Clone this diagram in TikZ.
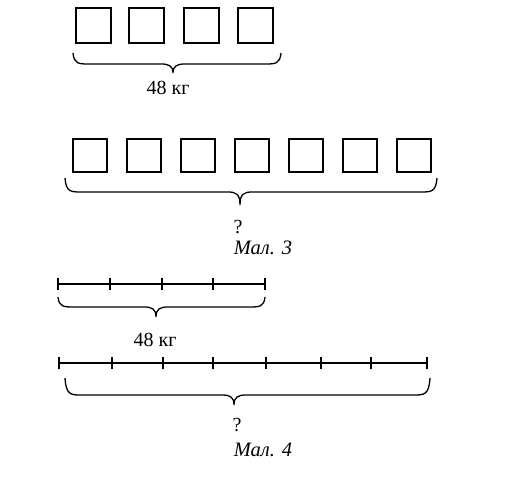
\documentclass[tikz,border=0pt]{standalone}
\usepackage{fontspec}
\setmainfont{Liberation Serif}
\tikzset{
  ln/.style={line width=1.3pt},
  bx/.style={ln},
  lbl/.style={font=\fontsize{20}{24}\selectfont, inner sep=0pt},
  captxt/.style={font=\fontsize{20.5}{24}\selectfont\itshape, inner sep=0pt},
}
\newcommand\brc[6]{% x1 x2 ytop yflat xm ytip
  \draw[ln] (#1,#3) .. controls (#1+1,#4) and (#1+6,#4) .. (#1+16,#4)
    -- (#5-12,#4) .. controls (#5-4,#4) and (#5,#4+2) .. (#5,#6)
    .. controls (#5,#4+2) and (#5+4,#4) .. (#5+12,#4)
    -- (#2-16,#4) .. controls (#2-6,#4) and (#2-1,#4) .. (#2,#3);
}
\begin{document}
\begin{tikzpicture}[x=1pt,y=-1pt]
\useasboundingbox (0,0) rectangle (522,478);
% row 1
\foreach \x in {76,129,184,238} \draw[bx] (\x,8) rectangle (\x+35,43);
\brc{73}{281}{53}{64}{173}{73}
\node[lbl] (t1) at (168,88) {48 кг};
% row 2
\foreach \x in {73,127,181,235,289,343,397} \draw[bx] (\x,139) rectangle (\x+34,172);
\brc{65}{437}{178}{192}{240}{205}
\node[lbl] (q1) at (238,227) {?};
\node[captxt] (m3) at (263,248) {Мал. 3};
% line 1
\draw[ln] (58,284) -- (265,284);
\foreach \x in {58,110,162,213,265} \draw[ln] (\x,278) -- (\x,290);
\brc{58}{265}{297}{307}{156}{317}
\node[lbl] (t2) at (155,340) {48 кг};
% line 2
\draw[ln] (59,363) -- (427,363);
\foreach \x in {59,112,163,213,266,321,371,427} \draw[ln] (\x,357) -- (\x,369);
\brc{65}{430}{378}{395}{234}{405}
\node[lbl] (q2) at (237,425) {?};
\node[captxt] (m4) at (263,450) {Мал. 4};
\end{tikzpicture}
\end{document}
